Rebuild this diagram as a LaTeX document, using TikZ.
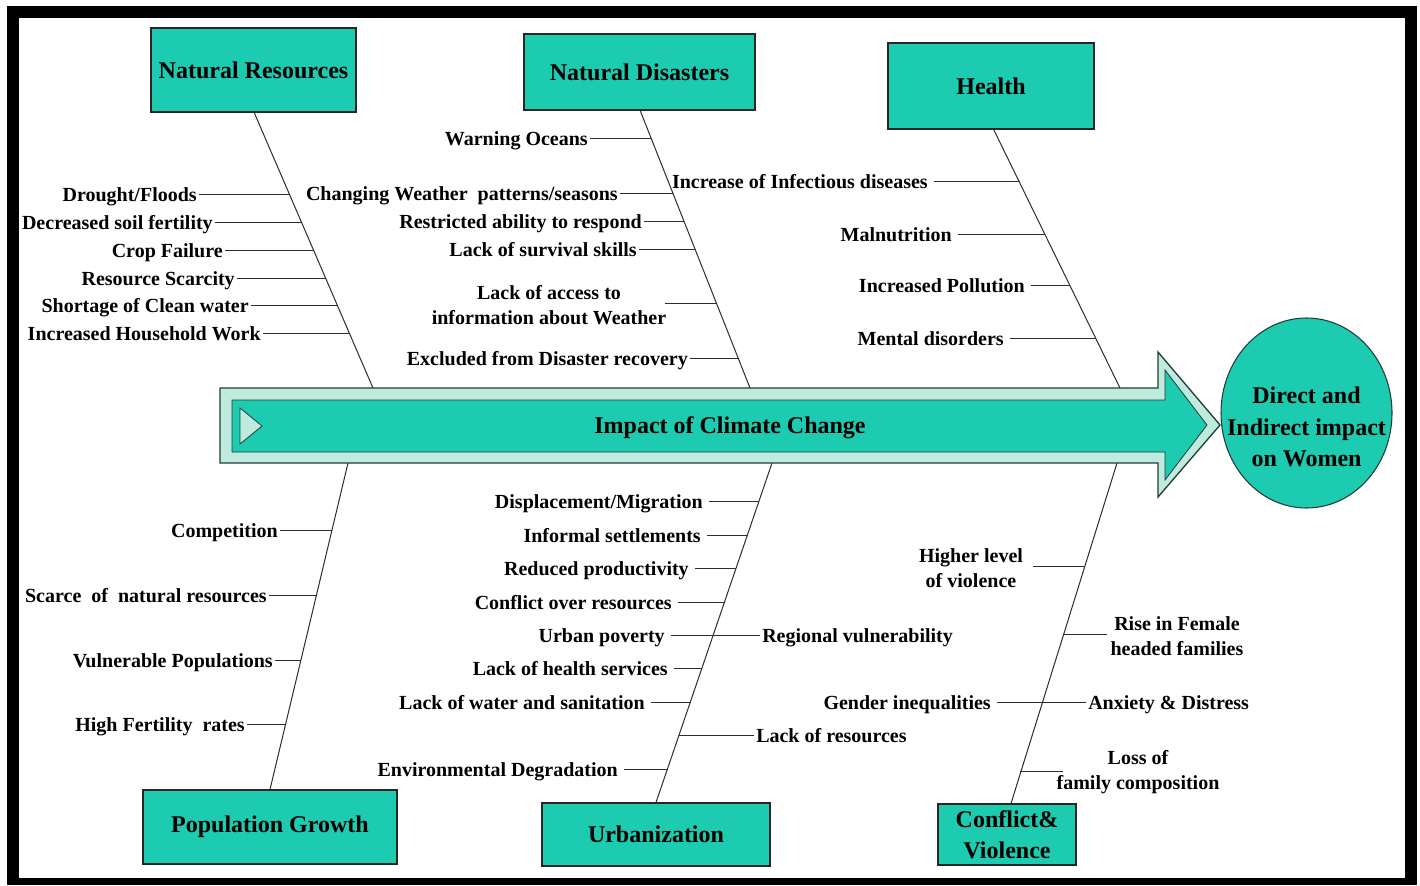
\documentclass[tikz,border=0pt]{standalone}
\usepackage{fontspec}
\setmainfont{Liberation Serif}
\usetikzlibrary{shapes.geometric}
\definecolor{tealfill}{RGB}{28,203,176}
\definecolor{palefill}{RGB}{190,235,222}
\definecolor{darkline}{RGB}{35,60,55}
\definecolor{ln}{RGB}{45,45,45}
\begin{document}
\begin{tikzpicture}[x=0.75pt,y=-0.75pt,
  lbl/.style={font=\fontsize{15}{18.75}\selectfont\bfseries, inner sep=1.5pt, text height=13pt, text depth=2.5pt},
  lbltwo/.style={font=\fontsize{15}{18.75}\selectfont\bfseries, inner sep=1.5pt, align=center},
  catbox/.style={draw=black!85, line width=0.8pt, fill=tealfill, font=\fontsize{18}{23}\selectfont\bfseries, inner sep=0pt, align=center},
  spine/.style={draw=ln, line width=0.75pt},
  branch/.style={draw=ln, line width=0.75pt}]
\useasboundingbox (0,0) rectangle (1420,885);
% frame
\fill[black] (7,6) rectangle (1417,885);
\fill[white] (19,18) rectangle (1405,878);

% category boxes
\node[catbox, minimum width=153.75pt, minimum height=63pt] (nr) at (253.5,70) {Natural Resources};
\node[catbox, minimum width=173.25pt, minimum height=57pt] (nd) at (639.5,72) {Natural Disasters};
\node[catbox, minimum width=154.5pt, minimum height=64.5pt] (he) at (991,86) {Health};
\node[catbox, minimum width=190.5pt, minimum height=55.5pt] (pg) at (270,827) {Population Growth};
\node[catbox, minimum width=171pt, minimum height=47.25pt] (ur) at (656,834.5) {Urbanization};
\node[catbox, minimum width=103.5pt, minimum height=45.75pt] (cv) at (1007,834.5) {Conflict\&\\Violence};

% spine end points on the arrow
\coordinate (nrE) at (373,388);
\coordinate (ndE) at (750,388);
\coordinate (heE) at (1120,388);
\coordinate (pgE) at (348,463);
\coordinate (urE) at (772,463);
\coordinate (cvE) at (1117,463);
\draw[spine] ([xshift=0.5]nr.south) -- (nrE);
\draw[spine] ([xshift=0.5]nd.south) -- (ndE);
\draw[spine] ([xshift=2]he.south) -- (heE);
\draw[spine] (pg.north) -- (pgE);
\draw[spine] (ur.north) -- (urE);
\draw[spine] ([xshift=3]cv.north) -- (cvE);

% main arrow
\draw[fill=palefill, draw=darkline, line width=1pt]
  (220,388) -- (1158,388) -- (1158,352) -- (1220,425) -- (1158,497) -- (1158,463) -- (220,463) -- cycle;
\draw[fill=tealfill, draw=darkline, line width=0.6pt]
  (232,400) -- (1165,400) -- (1165,370) -- (1207,425) -- (1165,480) -- (1165,452) -- (232,452) -- cycle;
\draw[fill=palefill, draw=darkline, line width=0.6pt] (240,408) -- (262,426) -- (240,444) -- cycle;
\node[font=\fontsize{18}{23}\selectfont\bfseries] (imp) at (730,428) {Impact of Climate Change};

% target ellipse
\draw[draw=darkline, line width=0.8pt, fill=tealfill] (1306.5,413) ellipse [x radius=64.125pt, y radius=71.25pt];
\node[inner sep=0pt, align=center, font=\fontsize{18}{23.5}\selectfont\bfseries] (wo) at (1306.5,427)
  {Direct and\\Indirect impact\\on Women};

% ---- Natural Resources
\node[lbl, anchor=east] (nr1) at (199,194) {Drought/Floods};
\node[lbl, anchor=east] (nr2) at (215,222) {Decreased soil fertility};
\node[lbl, anchor=east] (nr3) at (225,250) {Crop Failure};
\node[lbl, anchor=east] (nr4) at (237,278) {Resource Scarcity};
\node[lbl, anchor=east] (nr5) at (251,305) {Shortage of Clean water};
\node[lbl, anchor=east] (nr6) at (263,333) {Increased Household Work};
\coordinate (cnr1) at (289.4,194);
\coordinate (cnr2) at (301.4,222);
\coordinate (cnr3) at (313.5,250);
\coordinate (cnr4) at (325.6,278);
\coordinate (cnr5) at (337.2,305);
\coordinate (cnr6) at (349.3,333);
\foreach \i in {1,...,6} {\draw[branch] (nr\i) -- (cnr\i);}

% ---- Natural Disasters
\node[lbl, anchor=east] (nd1) at (590,138) {Warning Oceans};
\node[lbl, anchor=east] (nd2) at (620,193) {Changing Weather~~patterns/seasons};
\node[lbl, anchor=east] (nd3) at (644,221) {Restricted ability to respond};
\node[lbl, anchor=east] (nd4) at (639,249) {Lack of survival skills};
\node[lbltwo] (nd5) at (549,305) {Lack of access to\\information about Weather};
\node[lbl, anchor=east] (nd6) at (690,358) {Excluded from Disaster recovery};
\coordinate (cnd1) at (651.1,138);
\coordinate (cnd2) at (672.8,193);
\coordinate (cnd3) at (683.9,221);
\coordinate (cnd4) at (695,249);
\coordinate (cnd5) at (716.4,303);
\coordinate (cnd6) at (738.1,358);
\foreach \i in {1,2,3,4,6} {\draw[branch] (nd\i) -- (cnd\i);}
\draw[branch] (665,303) coordinate (snd5) -- (cnd5);

% ---- Health
\node[lbl, anchor=east] (he1) at (930,181) {Increase of Infectious diseases};
\node[lbl, anchor=east] (he2) at (954,234) {Malnutrition};
\node[lbl, anchor=east] (he3) at (1027,285) {Increased Pollution};
\node[lbl, anchor=east] (he4) at (1006,338) {Mental disorders};
\coordinate (che1) at (1018.5,181);
\coordinate (che2) at (1044.5,234);
\coordinate (che3) at (1069.5,285);
\coordinate (che4) at (1095.5,338);
\foreach \i in {1,...,4} {\draw[branch] ([xshift=3]he\i.east) -- (che\i);}

% ---- Population Growth
\node[lbl, anchor=east] (pg1) at (280,530) {Competition};
\node[lbl, anchor=east] (pg2) at (269,595) {Scarce~~of~~natural resources};
\node[lbl, anchor=east] (pg3) at (275,660) {Vulnerable Populations};
\node[lbl, anchor=east] (pg4) at (247,724) {High Fertility~~rates};
\coordinate (cpg1) at (332,530);
\coordinate (cpg2) at (316.5,595);
\coordinate (cpg3) at (301,660);
\coordinate (cpg4) at (285.7,724);
\foreach \i in {1,...,4} {\draw[branch] (pg\i) -- (cpg\i);}

% ---- Urbanization
\node[lbl, anchor=east] (ur1) at (705,501) {Displacement/Migration};
\node[lbl, anchor=east] (ur2) at (703,535) {Informal settlements};
\node[lbl, anchor=east] (ur3) at (691,568) {Reduced productivity};
\node[lbl, anchor=east] (ur4) at (674,602) {Conflict over resources};
\node[lbl, anchor=east] (ur5) at (667,635) {Urban poverty};
\node[lbl, anchor=west] (ur5r) at (760,635) {Regional vulnerability};
\node[lbl, anchor=east] (ur6) at (670,668) {Lack of health services};
\node[lbl, anchor=east] (ur7) at (647,702) {Lack of water and sanitation};
\node[lbl, anchor=west] (ur8) at (754,735) {Lack of resources};
\node[lbl, anchor=east] (ur9) at (620,769) {Environmental Degradation};
\coordinate (cur1) at (759,501);
\coordinate (cur2) at (747.4,535);
\coordinate (cur3) at (736.2,568);
\coordinate (cur4) at (724.6,602);
\coordinate (cur6) at (702.1,668);
\coordinate (cur7) at (690.5,702);
\coordinate (cur8) at (679.2,735);
\coordinate (cur9) at (667.6,769);
\foreach \i in {1,2,3,4,6,7,9} {\draw[branch] ([xshift=3]ur\i.east) -- (cur\i);}
\draw[branch] ([xshift=3]ur5.east) -- (ur5r.west);
\draw[branch] (cur8) -- (ur8.west);

% ---- Conflict & Violence
\node[lbltwo] (cv1) at (971,568) {Higher level\\of violence};
\node[lbltwo] (cv2) at (1177,636) {Rise in Female\\headed families};
\node[lbl, anchor=east] (cv3) at (993,702) {Gender inequalities};
\node[lbl, anchor=west] (cv3r) at (1086,702) {Anxiety \& Distress};
\node[lbltwo] (cv4) at (1138,772) {Loss of\\family composition};
\coordinate (ccv1) at (1084.7,566);
\coordinate (ccv2) at (1063.3,634);
\coordinate (ccv4) at (1020.4,771);
\draw[branch] ([xshift=6]cv1.east |- ccv1) -- (ccv1);
\draw[branch] (ccv2) -- ([xshift=-1]cv2.west |- ccv2);
\draw[branch] ([xshift=3]cv3.east) -- (cv3r.west);
\draw[branch] (ccv4) -- (1063,771) coordinate (ecv4);
\end{tikzpicture}
\end{document}
